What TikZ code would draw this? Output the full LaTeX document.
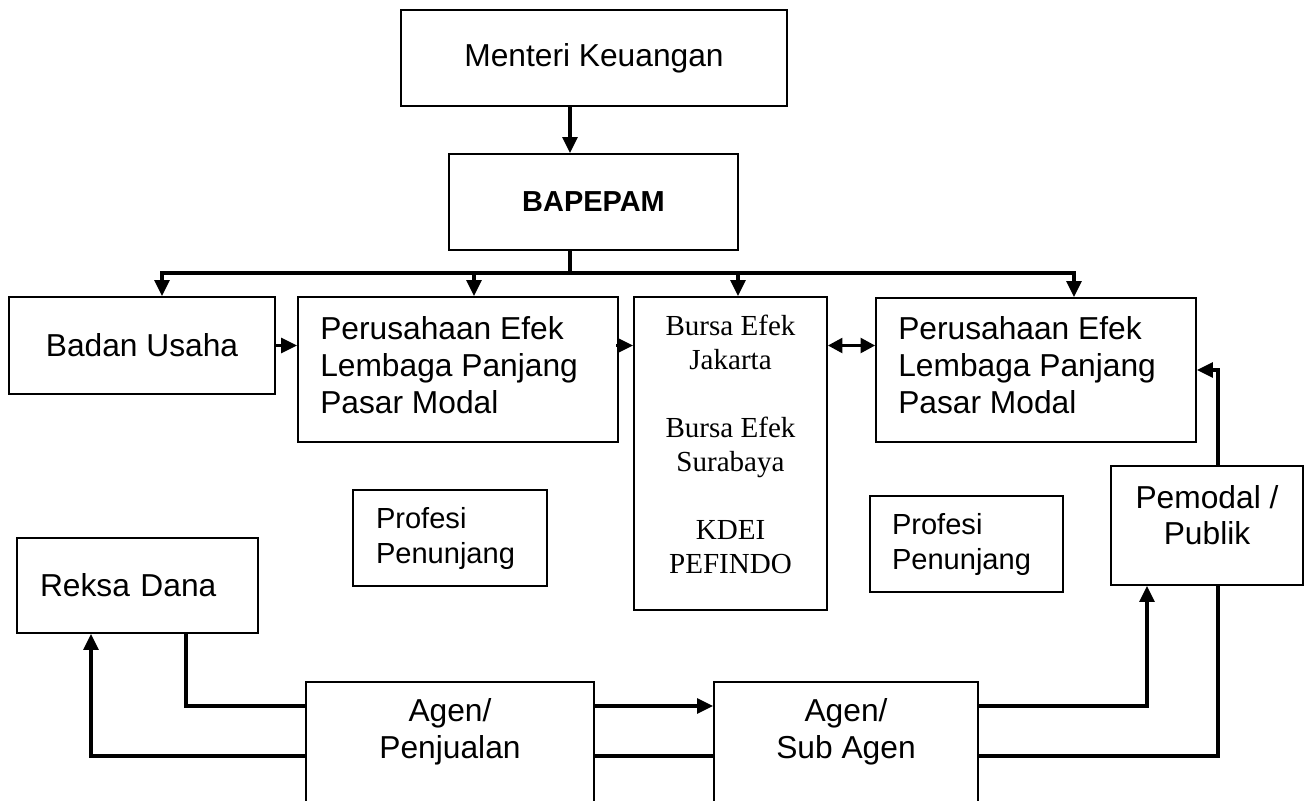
\documentclass[tikz,border=0pt]{standalone}
\usepackage{fontspec}
\setmainfont{Liberation Sans}
\newfontfamily\timesfont{Liberation Serif}
\usetikzlibrary{arrows.meta}

\begin{document}
\begin{tikzpicture}[x=0.75pt, y=-0.75pt,
    box/.style={draw, line width=1.2pt, inner sep=0pt},
    txt/.style={font={\fontsize{23.8}{27.5}\selectfont}},
    smalltxt/.style={font={\fontsize{21.8}{26.25}\selectfont}},
    conn/.style={line width=2.6pt, line cap=rect},
    arr/.style={conn, -{Triangle[length=12pt, width=11pt]}},
    dbl/.style={conn, {Triangle[length=11pt, width=11pt]}-{Triangle[length=11pt, width=11pt]}}]
    \useasboundingbox (0,0) rectangle (1306,800);
    \clip (0,0) rectangle (1306,800);
    % top of the chart
    \node[box, txt, minimum width=289.5pt, minimum height=72pt] (menteri) at (594,58) {Menteri Keuangan};
    \node[box, font={\bfseries\fontsize{21.7}{26}\selectfont}, minimum width=216.75pt, minimum height=72pt] (bapepam) at (593.5,202) {BAPEPAM};
    % second row
    \node[box, txt, minimum width=199.5pt, minimum height=72.75pt] (badan) at (142,345.5) {Badan Usaha};
    \node[box, minimum width=240pt, minimum height=108.75pt] (per1) at (458,369.5) {};
    \node[txt, align=left, anchor=west, inner sep=0pt] (per1-txt) at (320,365) {Perusahaan Efek\\Lembaga Panjang\\Pasar Modal};
    \node[box, minimum width=144.75pt, minimum height=234.75pt] (bursa) at (730.5,453.5) {};
    \node[font={\timesfont\fontsize{21.8}{25.5}\selectfont}, align=center] (bursa-txt) at (730.5,444) {Bursa Efek\\Jakarta\\[25.5pt]Bursa Efek\\Surabaya\\[25.5pt]KDEI\\PEFINDO};
    \node[box, minimum width=240pt, minimum height=108pt] (per2) at (1036,370) {};
    \node[txt, align=left, anchor=west, inner sep=0pt] (per2-txt) at (898,365) {Perusahaan Efek\\Lembaga Panjang\\Pasar Modal};
    % middle boxes
    \node[box, smalltxt, align=left, text width=111pt, inner xsep=17.25pt, minimum height=72pt] (prof1) at (450,538) {Profesi\\Penunjang};
    \node[box, smalltxt, align=left, text width=111.75pt, inner xsep=16.5pt, minimum height=72pt] (prof2) at (966.5,544) {Profesi\\Penunjang};
    \node[box, txt, align=left, text width=146.25pt, inner xsep=17.25pt, minimum height=71.25pt] (reksa) at (137.5,585.5) {Reksa Dana};
    \node[box, minimum width=144pt, minimum height=89.25pt] (pemodal) at (1207,525.5) {};
    \node[txt, align=center] (pemodal-txt) at (1207,515) {Pemodal /\\Publik};
    % agents, cut by the lower edge
    \node[box, minimum width=216pt, minimum height=111pt] (agen1) at (450,756) {};
    \node[txt, align=center] (agen1-txt) at (450,732) {Agen/\\Penjualan};
    \node[box, minimum width=198pt, minimum height=111pt] (agen2) at (846,756) {};
    \node[txt, align=center] (agen2-txt) at (846,732) {Agen/\\Sub Agen};

    % connectors
    \coordinate (trunk) at (570,273);
    \draw[arr] (menteri.south -| trunk) -- (bapepam.north -| trunk);
    \draw[conn] (bapepam.south -| trunk) -- (trunk);
    \foreach \x/\n in {162/badan, 474/per1, 738/bursa, 1074/per2}{
        \coordinate (drop-\n) at (\x,273);
        \draw[arr] (drop-\n) -- (drop-\n |- \n.north);
    }
    \draw[conn] (drop-badan) -- (drop-per2);
    \draw[arr] (badan.east) -- (badan.east -| per1.west);
    \draw[arr] (per1.east |- badan.east) -- (bursa.west |- badan.east);
    \draw[dbl] (bursa.east |- badan.east) -- (per2.west |- badan.east);
    \draw[arr] ([xshift=8.25pt]pemodal.north) |- (per2.east);

    \coordinate (upper) at (0,706);
    \coordinate (lower) at (0,756);
    \draw[conn] ([xshift=36.4pt]reksa.south) |- (agen1.west |- upper);
    \draw[arr] (agen1.west |- lower) -| ([xshift=-34.9pt]reksa.south);
    \draw[arr] (agen1.east |- upper) -- (agen2.west |- upper);
    \draw[conn] (agen2.west |- lower) -- (agen1.east |- lower);
    \draw[arr] (agen2.east |- upper) -| ([xshift=-45pt]pemodal.south);
    \draw[conn] (agen2.east |- lower) -| ([xshift=8.25pt]pemodal.south);
\end{tikzpicture}
\end{document}
